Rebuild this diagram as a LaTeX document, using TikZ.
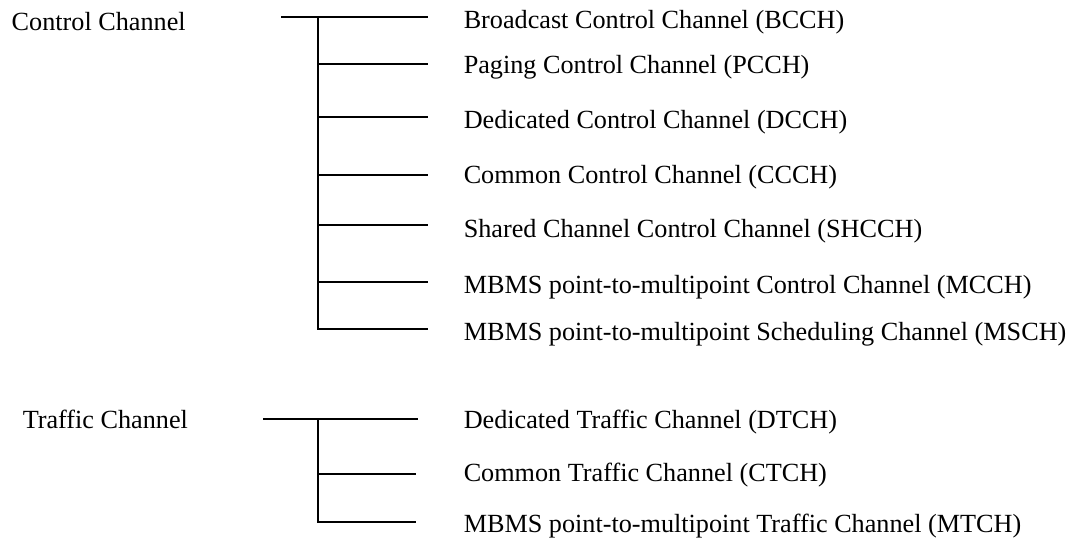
\documentclass[tikz,border=0pt]{standalone}
\usepackage{fontspec}
\setmainfont{Liberation Serif}
\begin{document}
\begin{tikzpicture}[x=0.5pt, y=-0.5pt, line width=0.75pt,
    chname/.style={anchor=base west, inner sep=0pt, font=\fontsize{13.1}{15}\selectfont},
    chitem/.style={anchor=base west, inner sep=0pt, font=\fontsize{13.1}{15}\selectfont}]
    \useasboundingbox (0,0) rectangle (1082,537);

    \node[chname] (ctrl) at (11,30) {Control Channel};
    \coordinate (cstart) at (281,17);
    \coordinate (cj1) at (318,17);   \coordinate (ce1) at (428,17);
    \coordinate (cj2) at (318,64);   \coordinate (ce2) at (428,64);
    \coordinate (cj3) at (318,117);  \coordinate (ce3) at (428,117);
    \coordinate (cj4) at (318,175);  \coordinate (ce4) at (428,175);
    \coordinate (cj5) at (318,225);  \coordinate (ce5) at (428,225);
    \coordinate (cj6) at (318,282);  \coordinate (ce6) at (428,282);
    \coordinate (cj7) at (318,329);  \coordinate (ce7) at (428,329);

    \node[chitem] (bcch) at (463,28) {Broadcast Control Channel (BCCH)};
    \node[chitem] (pcch) at (463,73) {Paging Control Channel (PCCH)};
    \node[chitem] (dcch) at (463,128) {Dedicated Control Channel (DCCH)};
    \node[chitem] (ccch) at (463,183) {Common Control Channel (CCCH)};
    \node[chitem] (shcch) at (463,237) {Shared Channel Control Channel (SHCCH)};
    \node[chitem] (mcch) at (463,293) {MBMS point-to-multipoint Control Channel (MCCH)};
    \node[chitem] (msch) at (463,340) {MBMS point-to-multipoint Scheduling Channel (MSCH)};

    \draw (cstart) -- (ce1);
    \draw (cj1) -- (cj7) -- (ce7);
    \draw (cj2) -- (ce2);
    \draw (cj3) -- (ce3);
    \draw (cj4) -- (ce4);
    \draw (cj5) -- (ce5);
    \draw (cj6) -- (ce6);

    \node[chname] (traf) at (22,428) {Traffic Channel};
    \coordinate (tstart) at (263,419);
    \coordinate (tj1) at (318,419);  \coordinate (te1) at (418,419);
    \coordinate (tj2) at (318,474);  \coordinate (te2) at (416,474);
    \coordinate (tj3) at (318,522);  \coordinate (te3) at (416,522);

    \node[chitem] (dtch) at (463,428) {Dedicated Traffic Channel (DTCH)};
    \node[chitem] (ctch) at (463,481) {Common Traffic Channel (CTCH)};
    \node[chitem] (mtch) at (463,532) {MBMS point-to-multipoint Traffic Channel (MTCH)};

    \draw (tstart) -- (te1);
    \draw (tj1) -- (tj3) -- (te3);
    \draw (tj2) -- (te2);
\end{tikzpicture}
\end{document}
